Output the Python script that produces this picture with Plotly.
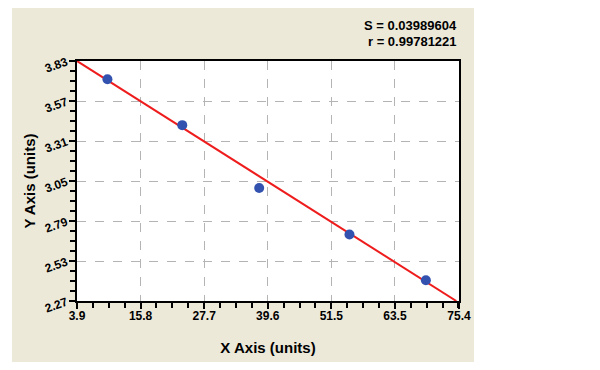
import plotly.graph_objects as go

# data
x_points = [9.6, 23.6, 38.0, 54.9, 69.2]
y_points = [3.711, 3.413, 3.005, 2.702, 2.405]
fit_x = [3.9, 74.9]
fit_y = [3.83, 2.27]
x_tickvals = [3.9, 15.8, 27.7, 39.6, 51.5, 63.4, 75.4]
x_ticktext = ["3.9", "15.8", "27.7", "39.6", "51.5", "63.5", "75.4"]
y_tickvals = [2.27, 2.53, 2.79, 3.05, 3.31, 3.57, 3.83]
y_ticktext = ["2.27", "2.53", "2.79", "3.05", "3.31", "3.57", "3.83"]
stats_text = ["S = 0.03989604", "r = 0.99781221"]

FONT = "Liberation Sans"
BEIGE = "#ece9d9"

fig = go.Figure()
fig.add_trace(go.Scatter(x=fit_x, y=fit_y, mode="lines",
                         line=dict(color="#ee1c1c", width=2), hoverinfo="skip"))
fig.add_trace(go.Scatter(x=x_points, y=y_points, mode="markers",
                         marker=dict(color="#3352b0", size=10, line=dict(width=0))))

OFF = 8  # page body margin
L, R, T, B = 77 - OFF, 459 - OFF, 61 - OFF, 301 - OFF
W, H = 600, 370
pw, ph = R - L, B - T

def px_x(p):
    return (p - OFF - L) / pw

def px_y(p):
    return (B - (p - OFF)) / ph

fig.add_shape(type="rect", xref="paper", yref="paper",
              x0=px_x(12), x1=px_x(474), y0=px_y(362), y1=px_y(6),
              fillcolor=BEIGE, line=dict(width=0), layer="below")
fig.add_shape(type="rect", xref="paper", yref="paper",
              x0=0, x1=1, y0=0, y1=1,
              fillcolor="white", line=dict(width=0), layer="below")

axis_common = dict(
    showline=True, mirror=True, linecolor="black", linewidth=2,
    ticks="outside", ticklen=6, tickwidth=2, tickcolor="black",
    showgrid=True, gridcolor="#b4b4b4", gridwidth=1, griddash="dash",
    zeroline=False, automargin=False,
    tickfont=dict(family=FONT, size=12, color="black", weight="bold"),
    title_font=dict(family=FONT, size=15, color="black", weight="bold"),
)

fig.update_xaxes(range=[3.9, 75.4], tickmode="array", tickvals=x_tickvals,
                 ticktext=x_ticktext, title_text="X Axis (units)", title_standoff=20,
                 ticklabelstandoff=-3,
                 minor=dict(ticks="outside", ticklen=5, tickwidth=2, tickcolor="black",
                            tick0=3.9, dtick=11.9 / 4, showgrid=False),
                 **axis_common)
fig.update_yaxes(range=[2.27, 3.83], tickmode="array", tickvals=y_tickvals,
                 ticktext=y_ticktext, tickangle=-20, title_text="Y Axis (units)",
                 title_standoff=4,
                 minor=dict(ticks="outside", ticklen=5, tickwidth=2, tickcolor="black",
                            tick0=2.27, dtick=0.065, showgrid=False),
                 **axis_common)

for i, t in enumerate(stats_text):
    fig.add_annotation(text=t, xref="paper", yref="paper",
                       x=px_x(459), y=px_y(25 + 16.5 * i), xanchor="right", yanchor="middle",
                       showarrow=False,
                       font=dict(family=FONT, size=13, color="black", weight="bold"))

fig.update_layout(width=W, height=H, margin=dict(l=L, r=W - R, t=T, b=H - B),
                  paper_bgcolor="white", plot_bgcolor="white", showlegend=False)

fig.write_html("out.html")
